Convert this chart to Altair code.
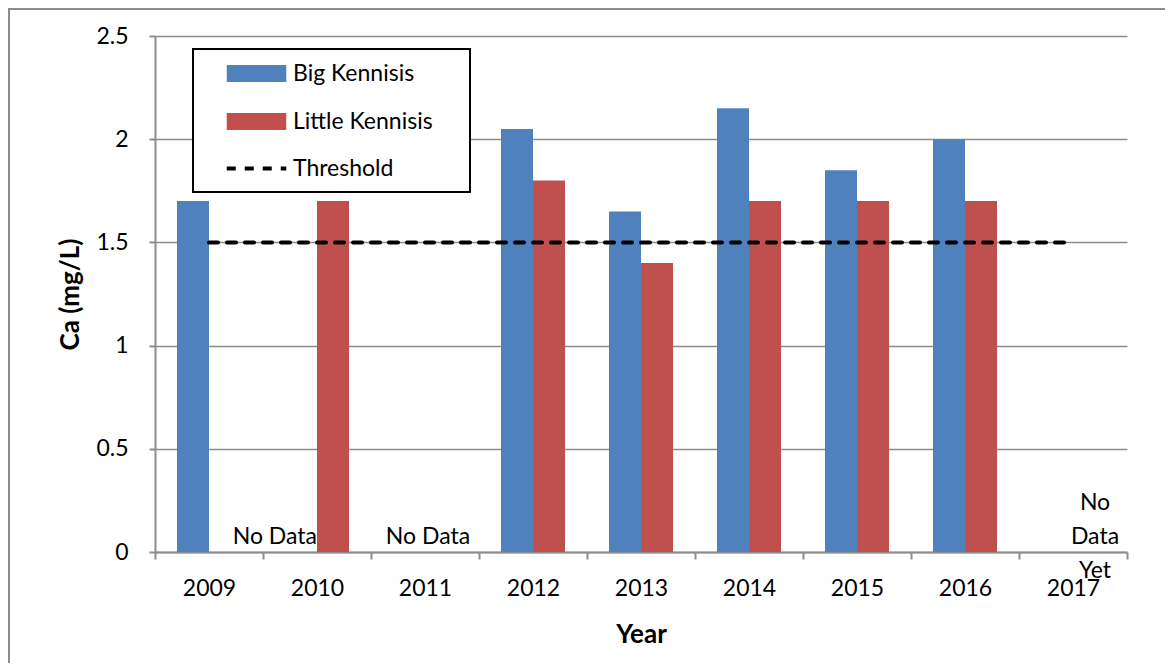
import altair as alt
import pandas as pd

# ---- data ----
years = ["2009", "2010", "2011", "2012", "2013", "2014", "2015", "2016", "2017"]
series_names = ["Big Kennisis", "Little Kennisis"]
big_years = ["2009", "2012", "2013", "2014", "2015", "2016"]
big_values = [1.7, 2.05, 1.65, 2.15, 1.85, 2.0]
little_years = ["2010", "2012", "2013", "2014", "2015", "2016"]
little_values = [1.7, 1.8, 1.4, 1.7, 1.7, 1.7]
threshold_name = "Threshold"
threshold_value = 1.5
y_ticks = [0, 0.5, 1, 1.5, 2, 2.5]
note_left_year = ["2010"]
note_center_year = ["2011"]
note_yet_year = ["2017"]

BLUE = "#4F81BD"
RED = "#C0504D"
GRID = "#8c8c8c"
FONT = "Lato"

bars_df = pd.DataFrame(
    [{"year": y, "series": series_names[0], "value": v} for y, v in zip(big_years, big_values)]
    + [{"year": y, "series": series_names[1], "value": v} for y, v in zip(little_years, little_values)]
)
thr_df = pd.DataFrame({"year": years, "series": threshold_name, "value": threshold_value})

W, H = 972, 516

x_enc = alt.X(
    "year:N",
    scale=alt.Scale(domain=years, paddingInner=0, paddingOuter=0),
    sort=years,
    axis=alt.Axis(
        title="Year", tickBand="extent", labelAngle=0, labelFont=FONT, labelFontSize=23,
        labelColor="black", labelBaseline="alphabetic", labelPadding=36,
        tickSize=7, tickColor=GRID, tickWidth=2, domainColor=GRID, domainWidth=2,
        grid=False, titleFont=FONT, titleFontSize=26, titleFontWeight="bold",
        titleColor="black", titleY=90, titleBaseline="alphabetic",
    ),
)
y_enc = alt.Y(
    "value:Q",
    scale=alt.Scale(domain=[0, 2.5], nice=False, zero=True),
    axis=alt.Axis(
        title="Ca (mg/L)", values=y_ticks, format=".1~f", labelFont=FONT, labelFontSize=23,
        labelColor="black", labelPadding=21, tickSize=6, tickColor=GRID, tickWidth=2,
        domainColor=GRID, domainWidth=2, grid=True, gridColor=GRID, gridWidth=1.5,
        titleFont=FONT, titleFontSize=26, titleFontWeight="bold", titleColor="black",
        titleX=-77, titleY=H / 2, titleAngle=270, titleBaseline="alphabetic", titleAlign="center",
    ),
)

one = alt.Data(values=[{"a": 1}])

frame = alt.Chart(one).mark_rect(fill="transparent", stroke=GRID, strokeWidth=2).encode(
    x=alt.value(-146), x2=alt.value(1400), y=alt.value(-27), y2=alt.value(900)
)

bars = alt.Chart(bars_df).mark_bar().encode(
    x=x_enc,
    y=y_enc,
    xOffset=alt.XOffset("series:N", scale=alt.Scale(domain=series_names, paddingInner=0, paddingOuter=0.6875)),
    color=alt.Color(
        "series:N",
        scale=alt.Scale(domain=series_names, range=[BLUE, RED]),
        legend=alt.Legend(
            title=None, orient="none", legendX=90, legendY=26, padding=0,
            symbolType="M-3.5,-1H3.5V1H-3.5Z", symbolSize=289, symbolStrokeWidth=0, symbolOpacity=1,
            labelFont=FONT, labelFontSize=23, labelColor="black", labelOffset=25, rowPadding=24,
        ),
    ),
)

legend_box = alt.Chart(one).mark_rect(fill="white", stroke="black", strokeWidth=2).encode(
    x=alt.value(38), x2=alt.value(315), y=alt.value(13), y2=alt.value(156)
)

line = alt.Chart(thr_df).mark_line(color="black", strokeWidth=4, strokeCap="round").encode(
    x=x_enc,
    y=y_enc,
    strokeDash=alt.StrokeDash(
        "series:N",
        scale=alt.Scale(domain=[threshold_name], range=[[9, 9]]),
        legend=alt.Legend(
            title=None, orient="none", legendX=90, legendY=121, padding=0,
            symbolType="M-3.5,0H3.5", symbolSize=289, symbolStrokeColor="black",
            symbolStrokeWidth=4, symbolFillColor="transparent",
            labelFont=FONT, labelFontSize=23, labelColor="black", labelOffset=25,
        ),
    ),
)

note_left = alt.Chart(pd.DataFrame({"year": note_left_year, "value": [0], "t": ["No Data"]})).mark_text(
    align="right", baseline="alphabetic", dy=-8, dx=0, font=FONT, fontSize=23, color="black"
).encode(x=x_enc, y=y_enc, text="t:N")

note_center = alt.Chart(pd.DataFrame({"year": note_center_year, "value": [0], "t": ["No Data"]})).mark_text(
    align="center", baseline="alphabetic", dy=-8, dx=3, font=FONT, fontSize=23, color="black"
).encode(x=x_enc, y=y_enc, text="t:N")

note_yet = alt.Chart(pd.DataFrame({"year": note_yet_year, "value": [0], "t": [["No", "Data", "Yet"]]})).mark_text(
    align="center", baseline="alphabetic", dy=-42, dx=22, lineHeight=34, font=FONT, fontSize=23, color="black"
).encode(x=x_enc, y=y_enc, text="t")

chart = (
    alt.layer(frame, bars, line, note_left, note_center, note_yet, legend_box)
    .resolve_legend(color="independent", strokeDash="independent")
    .properties(
        width=W, height=H,
        autosize=alt.AutoSizeParams(type="none"),
        padding={"left": 147, "top": 28, "right": 38, "bottom": 111},
    )
    .configure_view(stroke=None)
)

chart.save("out.html", embed_options={"renderer": "svg", "actions": False})
